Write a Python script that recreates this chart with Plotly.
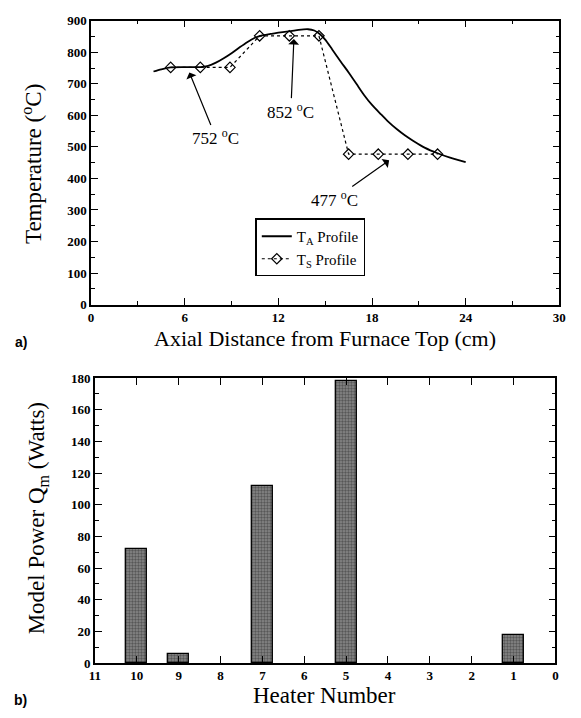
import plotly.graph_objects as go

# ---- data: top panel ----
ta_x = [4.0, 4.5, 5.1, 6.0, 7.0, 7.5, 8.0, 8.5, 9.0, 9.5, 10.0, 10.5, 10.9, 11.5, 12.0, 12.8,
        13.3, 13.9, 14.3, 14.65, 15.0, 15.45, 16.0, 16.5, 17.0, 17.5, 18.0, 18.6, 19.0, 19.6,
        20.1, 20.65, 21.4, 22.2, 23.0, 24.0]
ta_y = [739, 746, 752, 753, 753, 757, 767, 781, 797, 815, 832, 846, 853, 858, 862, 867,
        871, 873, 869, 858, 840, 809, 770, 736, 700, 664, 633, 602, 582, 556,
        537, 519, 497, 480, 466, 452]

ts_x = [5.1, 7.0, 8.9, 10.8, 12.7, 14.6, 16.5, 18.4, 20.3, 22.2]
ts_y = [752, 752, 752, 852, 852, 852, 477, 477, 477, 477]

# annotations: (label, arrow head x, head y, text x, text y)
ann_labels = ["752 <sup>o</sup>C", "852 <sup>o</sup>C", "477 <sup>o</sup>C"]
ann_head_x = [6.25, 13.0, 19.2]
ann_head_y = [742, 848, 461]
ann_text_x = [8.0, 12.8, 15.6]
ann_text_y = [530, 615, 335]

# ---- data: bottom panel ----
heater = [10, 9, 7, 5, 1]
power = [72, 5.5, 111.5, 178, 17.6]

serif = "Liberation Serif"

fig = go.Figure()
fig.add_trace(go.Scatter(x=ta_x, y=ta_y, mode="lines", name="T<sub>A</sub> Profile",
                         line=dict(color="black", width=1.8, shape="spline", smoothing=0.8),
                         xaxis="x", yaxis="y"))
fig.add_trace(go.Scatter(x=ts_x, y=ts_y, mode="lines+markers", name="T<sub>S</sub> Profile",
                         line=dict(color="black", width=1.2, dash="dot"),
                         marker=dict(symbol="diamond-open", size=8, color="black",
                                     line=dict(width=1.2)),
                         xaxis="x", yaxis="y"))
fig.add_trace(go.Bar(x=heater, y=power, width=0.5, showlegend=False,
                     marker=dict(color="#8c8c8c", line=dict(color="black", width=1.3),
                                 pattern=dict(shape=".", fgcolor="#1e1e1e", size=3, solidity=0.5)),
                     xaxis="x2", yaxis="y2"))

W, H = 581, 718
def px(a, b):
    return [a / W, b / W]
def py(top, bottom):
    return [(H - bottom) / H, (H - top) / H]

def axis_common():
    return dict(showline=True, linecolor="black", linewidth=1.5, mirror="allticks",
                ticks="inside", ticklen=7, tickwidth=1.2, tickcolor="black",
                showgrid=False, zeroline=False,
                tickfont=dict(family="Liberation Serif, serif", size=13, color="black",
                              weight="bold"))

fig.update_layout(
    width=W, height=H, margin=dict(l=0, r=0, t=0, b=0),
    paper_bgcolor="white", plot_bgcolor="white",
    font=dict(family=serif, color="black"),
    xaxis=dict(domain=px(87, 566), range=[0, 30], dtick=6, tick0=0,
               minor=dict(dtick=3, ticks="inside", ticklen=4, tickcolor="black"),
               anchor="y", **axis_common()),
    yaxis=dict(domain=py(14, 304), range=[0, 900], dtick=100, tick0=0,
               minor=dict(dtick=50, ticks="inside", ticklen=4, tickcolor="black"),
               anchor="x", **axis_common()),
    xaxis2=dict(domain=px(91, 562), range=[11, 0], dtick=1, tick0=0,
                anchor="y2", **axis_common()),
    yaxis2=dict(domain=py(379, 670), range=[0, 180], dtick=20, tick0=0,
                minor=dict(dtick=10, ticks="inside", ticklen=4, tickcolor="black"),
                anchor="x2", **axis_common()),
    bargap=0,
    legend=dict(x=255 / W, y=(H - 216) / H, xanchor="left", yanchor="top",
                bordercolor="black", borderwidth=1.5, bgcolor="white",
                font=dict(family=serif, size=15, color="black"),
                tracegroupgap=0, itemwidth=30),
    showlegend=True,
)

annotations = []
for lab, hx, hy, tx, ty in zip(ann_labels, ann_head_x, ann_head_y, ann_text_x, ann_text_y):
    annotations.append(dict(x=hx, y=hy, ax=tx, ay=ty, xref="x", yref="y", axref="x", ayref="y",
                            text=lab, showarrow=True, arrowhead=1, arrowsize=1.5, arrowwidth=1.2,
                            arrowcolor="black", standoff=2,
                            font=dict(family=serif, size=17, color="black")))

annotations += [
    dict(text="Axial Distance from Furnace Top (cm)", x=326 / W, y=(H - 339) / H,
         xref="paper", yref="paper", showarrow=False, xanchor="center", yanchor="middle",
         font=dict(family=serif, size=22, color="black")),
    dict(text="Temperature (<sup>o</sup>C)", x=27 / W, y=(H - 160) / H, textangle=-90,
         xref="paper", yref="paper", showarrow=False, xanchor="center", yanchor="middle",
         font=dict(family=serif, size=23, color="black")),
    dict(text="a)", x=15 / W, y=(H - 342) / H, xref="paper", yref="paper", showarrow=False,
         xanchor="center", yanchor="middle",
         font=dict(family="Liberation Sans", size=14, color="black", weight="bold")),
    dict(text="Heater Number", x=326 / W, y=(H - 703) / H,
         xref="paper", yref="paper", showarrow=False, xanchor="center", yanchor="middle",
         font=dict(family=serif, size=23, color="black")),
    dict(text="Model Power Q<sub>m</sub> (Watts)", x=33 / W, y=(H - 522) / H, textangle=-90,
         xref="paper", yref="paper", showarrow=False, xanchor="center", yanchor="middle",
         font=dict(family=serif, size=23, color="black")),
    dict(text="b)", x=15 / W, y=(H - 708) / H, xref="paper", yref="paper", showarrow=False,
         xanchor="center", yanchor="middle",
         font=dict(family="Liberation Sans", size=14, color="black", weight="bold")),
]
fig.update_layout(annotations=annotations)

fig.write_html("out.html")
